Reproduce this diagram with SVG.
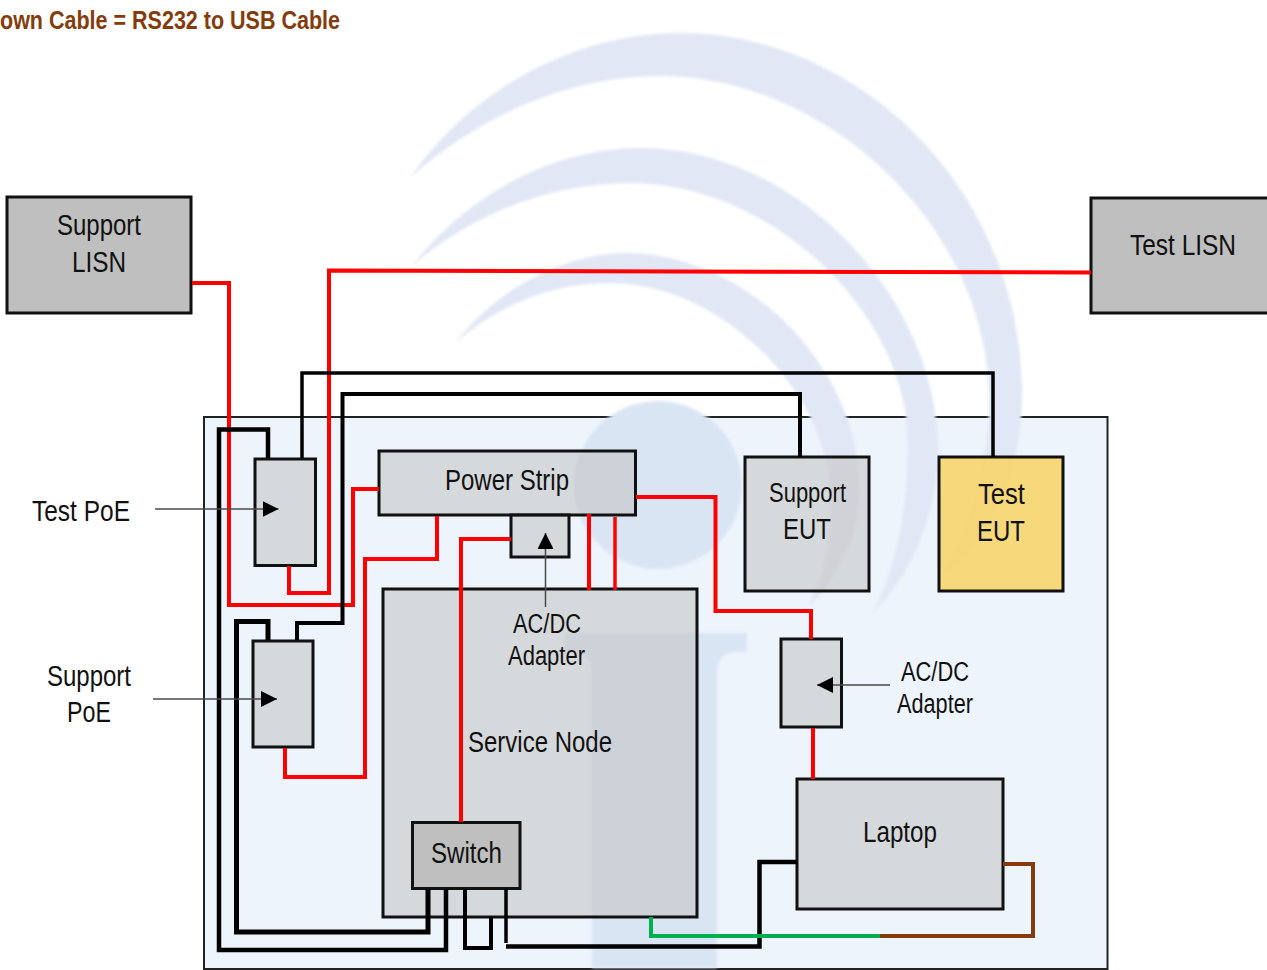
<svg xmlns="http://www.w3.org/2000/svg" width="1267" height="970" viewBox="0 0 1267 970">
<style>
text{font-family:"Liberation Sans",Arial,sans-serif;fill:#111;text-anchor:start}
.t{font-size:30px}
.s{font-size:27px}
.box{fill:#BFBEBC;fill-opacity:.5;stroke:#111;stroke-width:3}
.solid{fill:#BFBFBF;stroke:#111;stroke-width:3}
.w{fill:none;stroke-linejoin:miter;stroke-linecap:butt}
.r{stroke:#FF0000;stroke-width:4}
.k{stroke:#000;stroke-width:4}
.p{stroke:#4a4a4a;stroke-width:1.5;fill:none}
</style>
<defs>
<marker id="head" markerUnits="userSpaceOnUse" markerWidth="16" markerHeight="16" refX="16" refY="8" orient="auto"><path d="M0,0L16,8L0,16Z" fill="#000"/></marker>
<filter id="soft" x="-5%" y="-5%" width="110%" height="110%"><feGaussianBlur stdDeviation="1.5"/></filter>
</defs>
<rect width="1267" height="970" fill="#fff"/>
<g id="panel"><rect x="204" y="417" width="903.500" height="552" fill="#EDF4FC" stroke="#222" stroke-width="2"/></g>
<g id="watermark" filter="url(#soft)">
<g fill="#E1E7F5">
<path d="M410,178C470,90 575,33 680,33C860,33 1022,190 1022,395C1022,460 1000,530 940,578C975,520 989,460 989,400C989,230 830,76 660,76C570,76 480,115 410,178Z"/>
<path d="M412,266C470,190 560,148 640,148C800,148 938,300 938,450C938,510 915,570 873,613C900,560 908,500 908,440C905,310 770,183 630,183C550,183 470,215 412,266Z"/>
<path d="M456,342C500,285 570,253 625,253C750,253 860,370 860,490C860,535 840,575 808,607C825,570 833,530 830,490C826,390 720,283 610,283C550,283 500,305 456,342Z"/>
</g>
<g fill="#DAE5F4">
<circle cx="658" cy="485" r="84"/>
<path d="M565,633H747V652H735Q717,654 717,672V968H592V672Q591,654 575,652H565Z"/>
</g>
</g>
<text x="0" y="29" textLength="340" lengthAdjust="spacingAndGlyphs" style="font-size:25px;font-weight:bold;fill:#843C0C">own Cable = RS232 to USB Cable</text>

<g id="support-lisn"><rect class="solid" x="7" y="197" width="184" height="116"/>
<text class="t" x="57" y="235" textLength="84" lengthAdjust="spacingAndGlyphs">Support</text>
<text class="t" x="72" y="272" textLength="54" lengthAdjust="spacingAndGlyphs">LISN</text></g>
<g id="test-lisn"><rect class="solid" x="1091" y="198" width="180" height="115"/>
<text class="t" x="1130" y="255" textLength="106" lengthAdjust="spacingAndGlyphs">Test LISN</text></g>
<g id="test-poe"><rect class="box" x="255" y="459" width="60.500" height="106.500"/>
<text class="t" x="32" y="521" textLength="98" lengthAdjust="spacingAndGlyphs">Test PoE</text></g>
<g id="support-poe"><rect class="box" x="253" y="641" width="60" height="106"/>
<text class="t" x="47" y="686" textLength="84" lengthAdjust="spacingAndGlyphs">Support</text>
<text class="t" x="67" y="722" textLength="44" lengthAdjust="spacingAndGlyphs">PoE</text></g>
<g id="power-strip"><rect class="box" x="379" y="451" width="256.500" height="64"/>
<text class="t" x="445" y="490" textLength="124" lengthAdjust="spacingAndGlyphs">Power Strip</text></g>
<g id="service-node"><rect class="box" x="383" y="589" width="314" height="328"/>
<text class="t" x="468" y="752" textLength="144" lengthAdjust="spacingAndGlyphs">Service Node</text></g>
<g id="adapter-top"><rect class="box" x="511" y="515" width="58" height="42"/>
<text class="s" x="513" y="633" textLength="68" lengthAdjust="spacingAndGlyphs">AC/DC</text>
<text class="s" x="508" y="665" textLength="77" lengthAdjust="spacingAndGlyphs">Adapter</text></g>
<g id="switch"><rect class="solid" x="412.500" y="822.500" width="107.500" height="66"/>
<text class="t" x="431" y="863" textLength="71" lengthAdjust="spacingAndGlyphs">Switch</text></g>
<g id="support-eut"><rect class="box" x="745" y="457" width="124" height="134"/>
<text class="s" x="769" y="502" textLength="77" lengthAdjust="spacingAndGlyphs">Support</text>
<text class="t" x="783" y="539" textLength="48" lengthAdjust="spacingAndGlyphs">EUT</text></g>
<g id="test-eut"><rect x="939" y="457" width="124" height="134" fill="#F8D364" fill-opacity=".85" stroke="#111" stroke-width="3"/>
<text class="t" x="978" y="504" textLength="47" lengthAdjust="spacingAndGlyphs">Test</text>
<text class="t" x="977" y="541" textLength="48" lengthAdjust="spacingAndGlyphs">EUT</text></g>
<g id="adapter-right"><rect class="box" x="781" y="639" width="60.500" height="88"/>
<text class="s" x="901" y="681" textLength="68" lengthAdjust="spacingAndGlyphs">AC/DC</text>
<text class="s" x="897" y="713" textLength="76" lengthAdjust="spacingAndGlyphs">Adapter</text></g>
<g id="laptop"><rect class="box" x="797" y="779" width="206" height="130"/>
<text class="t" x="863" y="842" textLength="74" lengthAdjust="spacingAndGlyphs">Laptop</text></g>

<g id="connectors">
<g class="w r">
<path d="M192,283H229V605H353V489H379"/>
<path d="M1091,272.500L329,270.500V593H289V566"/>
<path d="M437,516V559H365V777H285V748"/>
<path d="M511,539H461V822"/>
<path d="M589,514V590"/>
<path d="M615,517V590" stroke-width="3.500"/>
<path d="M636,497H715.500V611H811V639"/>
<path d="M813,728V779"/>
</g>
<g class="w k">
<path d="M302,458V373H993V457" stroke-width="3.500"/>
<path d="M800,457V394H342.500V623H297V640"/>
<path d="M268,458V429.500H219V950H446V889" stroke-width="4.500"/>
<path d="M268,640V621.500H236.500V932H428V889" stroke-width="5"/>
<path d="M465,889V948H491V917"/>
<path d="M506,889V943" stroke-width="3.500"/>
<path d="M506,946.500H759.500V862H797" stroke-width="4.500"/>
</g>
<path class="w" d="M651,917V936H880" stroke="#00B050" stroke-width="4"/>
<path class="w" d="M1003,864H1033V936H880" stroke="#843C0C" stroke-width="4"/>
<path class="p" d="M155,509H278.500" marker-end="url(#head)"/>
<path class="p" d="M153,699H277" marker-end="url(#head)"/>
<path class="p" d="M545.500,607V533" marker-end="url(#head)"/>
<path class="p" d="M890,685H817" marker-end="url(#head)"/>
</g>
</svg>
